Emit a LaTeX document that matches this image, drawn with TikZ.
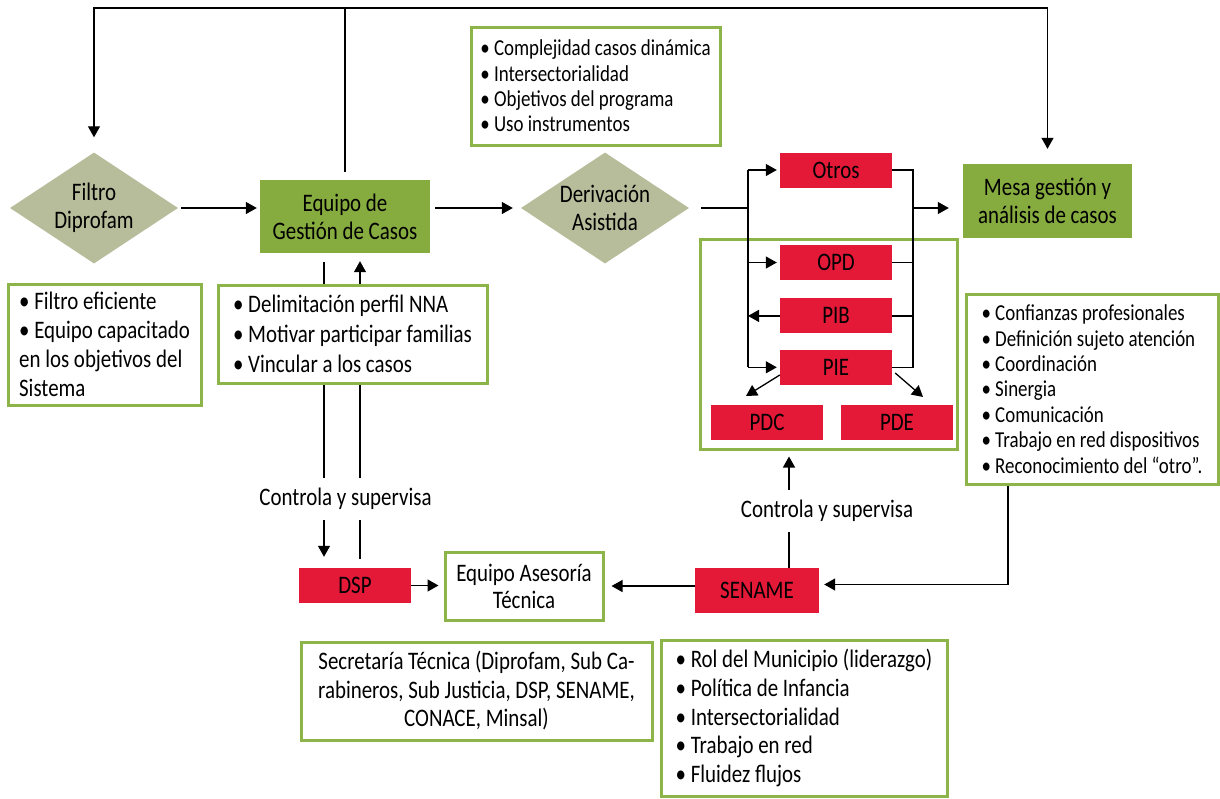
\documentclass[tikz,border=0pt]{standalone}
\usepackage{fontspec}
\setmainfont{Carlito}[FakeStretch=0.83]
\usepackage{tikz}
\usetikzlibrary{arrows.meta,positioning,shapes.geometric,calc}

\definecolor{boxgreen}{RGB}{134,172,64}
\definecolor{linegreen}{RGB}{141,180,72}
\definecolor{boxred}{RGB}{227,25,55}
\definecolor{boxkhaki}{RGB}{183,188,155}

\begin{document}
\begin{tikzpicture}[
    x=1pt, y=-1pt,
    font=\fontsize{25.2}{28}\selectfont,
    arrowstyle/.style={draw, line width=1.3pt, -{Triangle[length=11pt,width=12pt]}},
    linestyle/.style={draw, line width=1.3pt},
    decision/.style={diamond, fill=boxkhaki, inner sep=0pt, aspect=1.5,
        minimum width=168pt, minimum height=111pt, align=center},
    team/.style={rectangle, fill=boxgreen, inner sep=0pt, align=center},
    unit/.style={rectangle, fill=boxred, inner sep=0pt,
        minimum width=112pt, minimum height=35pt},
    note/.style={rectangle, draw=linegreen, line width=3pt, fill=white,
        inner sep=0pt},
    small/.style={font=\fontsize{22.8}{25.4}\selectfont},
    caption/.style={fill=white, inner xsep=2pt, inner ysep=10pt}
]
\useasboundingbox (0,0) rectangle (1220,798);

\node (Filtro) [decision] at (94,208) {Filtro\\Diprofam};
\node (Gestion) [team, minimum width=170pt, minimum height=73pt] at (345,216.5)
  {Equipo de\\Gestión de Casos};
\node (Derivacion) [decision] at (605,208) {Derivación\\Asistida};
\node (Mesa) [team, minimum width=169pt, minimum height=74pt] at (1047.5,201)
  {Mesa gestión y\\análisis de casos};

\node (Grupo) [note, fill=none, minimum width=257pt, minimum height=210pt]
  at (828.5,344) {};
\node (Otros) [unit] at (836,170) {Otros};
\node (OPD) [unit] at (836,262.5) {OPD};
\node (PIB) [unit, below=18pt of OPD] {PIB};
\node (PIE) [unit, below=16pt of PIB] {PIE};
\node (PDC) [unit] at (767,422) {PDC};
\node (PDE) [unit] at (897,422) {PDE};
\node (DSP) [unit] at (355,585.5) {DSP};
\node (SENAME) [unit, minimum width=124pt, minimum height=45pt] at (757,590.5) {SENAME};
\node (Asesoria) [note, minimum width=158pt, minimum height=68pt, align=center,
  font=\fontsize{25.2}{27}\selectfont] at (524,586) {Equipo Asesoría\\Técnica};

\node (NotaDerivacion) [note, small, minimum width=249pt, minimum height=118pt,
  align=left] at (595.5,86)
  {\textbullet\ Complejidad casos dinámica\\
   \textbullet\ Intersectorialidad\\
   \textbullet\ Objetivos del programa\\
   \textbullet\ Uso instrumentos};
\node (NotaFiltro) [note, minimum width=193pt, minimum height=121pt,
  align=left, font=\fontsize{25.2}{29}\selectfont] at (104.5,344.5)
  {\textbullet\ Filtro eficiente\\
   \textbullet\ Equipo capacitado\\
   en los objetivos del\\
   Sistema};
\node (NotaMesa) [note, small, minimum width=252pt, minimum height=190pt,
  align=left] at (1092,389)
  {\textbullet\ Confianzas profesionales\\
   \textbullet\ Definición sujeto atención\\
   \textbullet\ Coordinación\\
   \textbullet\ Sinergia\\
   \textbullet\ Comunicación\\
   \textbullet\ Trabajo en red dispositivos\\
   \textbullet\ Reconocimiento del “otro”.};
\node (NotaAsesoria) [note, minimum width=351pt, minimum height=98pt,
  align=center, font=\fontsize{25.2}{28.5}\selectfont] at (476.5,691)
  {Secretaría Técnica (Diprofam, Sub Ca-\\
   rabineros, Sub Justicia, DSP, SENAME,\\
   CONACE, Minsal)};
\node (NotaSename) [note, minimum width=286pt, minimum height=156pt,
  align=left, font=\fontsize{25.2}{28.7}\selectfont] at (804,718)
  {\textbullet\ Rol del Municipio (liderazgo)\\
   \textbullet\ Política de Infancia\\
   \textbullet\ Intersectorialidad\\
   \textbullet\ Trabajo en red\\
   \textbullet\ Fluidez flujos};

\coordinate (TopLeft) at (94,8);
\coordinate (BusLeft) at (748,208);
\coordinate (BusRight) at (913,208);
\coordinate (ArrowPDC) at (746,396);
\coordinate (ArrowPDE) at (923,397);
\coordinate (DownLine) at (324,0);
\coordinate (UpLine) at (360,0);
\coordinate (Feedback) at (1008,0);
\coordinate (Control) at (789,0);

\draw [arrowstyle, shorten <=8pt, shorten >=15pt] (Gestion.north) |- (TopLeft) -- (Filtro.north);
\draw [arrowstyle, shorten >=15pt] (Gestion.north |- TopLeft) -| (Mesa.north);
\draw [arrowstyle, shorten <=3pt, shorten >=3pt] (Filtro.east) -- (Filtro.east -| Gestion.west);
\draw [arrowstyle, shorten <=5pt, shorten >=8pt] (Gestion.east |- Derivacion.west) -- (Derivacion.west);
\draw [linestyle, shorten <=12pt] (Derivacion.east) -- (BusLeft);
\draw [linestyle] (BusLeft |- Otros) -- (BusLeft |- PIE);
\draw [arrowstyle, shorten >=3pt] (BusLeft |- Otros) -- (Otros.west);
\draw [arrowstyle, shorten >=3pt] (BusLeft |- OPD) -- (OPD.west);
\draw [arrowstyle] (PIB.west) -- (BusLeft |- PIB);
\draw [arrowstyle, shorten >=3pt] (BusLeft |- PIE) -- (PIE.west);
\draw [linestyle] (Otros.east) -- (BusRight |- Otros) -- (BusRight |- PIE) -- (PIE.east);
\draw [linestyle] (OPD.east) -- (BusRight |- OPD);
\draw [linestyle] (PIB.east) -- (BusRight |- PIB);
\draw [arrowstyle, shorten >=14pt] (BusRight) -- (BusRight -| Mesa.west);
\draw [arrowstyle] ([yshift=10pt]PIE.south west) -- (ArrowPDC);
\draw [arrowstyle] ([xshift=3pt,yshift=12pt]PIE.south east) -- (ArrowPDE);

\draw [arrowstyle, shorten <=9pt, shorten >=11pt] (Gestion.south -| DownLine) -- (DSP.north -| DownLine);
\draw [arrowstyle, shorten <=9pt, shorten >=8pt] (DSP.north -| UpLine) -- (Gestion.south -| UpLine);
\draw [arrowstyle, shorten >=5pt] (DSP.east) -- (DSP.east -| Asesoria.west);
\draw [arrowstyle, shorten >=7pt] (SENAME.west |- Asesoria.east) -- (Asesoria.east);
\draw [arrowstyle, shorten >=5pt] (NotaMesa.south -| Feedback) |- ([yshift=6pt]SENAME.east);
\draw [arrowstyle, shorten >=6pt] (SENAME.north -| Control) -- (Grupo.south -| Control);

\node (NotaGestion) [note, minimum width=269pt, minimum height=98pt,
  align=left, font=\fontsize{25.2}{30}\selectfont] at (352.5,334)
  {\textbullet\ Delimitación perfil NNA\\
   \textbullet\ Motivar participar familias\\
   \textbullet\ Vincular a los casos};
\node (Control01) [caption] at (345.5,499) {Controla y supervisa};
\node (Control02) [caption] at (827,511) {Controla y supervisa};
\end{tikzpicture}
\end{document}
